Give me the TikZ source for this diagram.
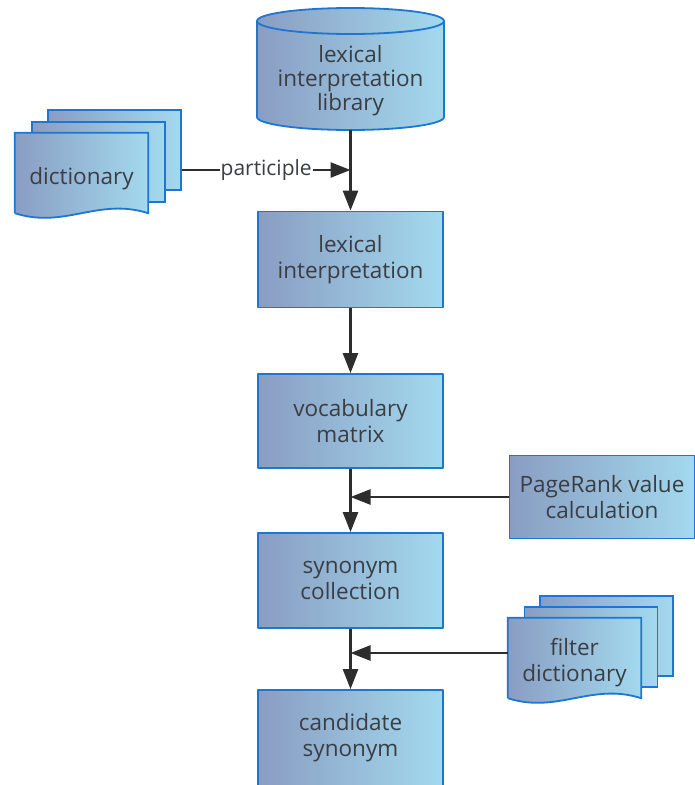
\documentclass[tikz,border=0pt]{standalone}
\usepackage{fontspec}
\setmainfont{Open Sans}
\usetikzlibrary{arrows.meta, positioning, calc, backgrounds}

\definecolor{shadeL}{RGB}{137,157,194}
\definecolor{shadeR}{RGB}{163,217,238}
\definecolor{edgeblue}{RGB}{28,118,210}
\definecolor{txtgray}{RGB}{58,62,68}
\definecolor{arrowgray}{RGB}{45,45,45}

\tikzset{
  box/.style={draw=edgeblue, line width=1.8pt, left color=shadeL, right color=shadeR,
    text=txtgray, align=center, minimum width=185, minimum height=95,
    font=\fontsize{22.5}{26}\selectfont},
  sheet/.style={draw=edgeblue, line width=1.8pt, left color=shadeL, right color=shadeR,
    minimum width=133, minimum height=80},
  docshape/.style={draw=edgeblue, line width=1.8pt, left color=shadeL, right color=shadeR},
  doctext/.style={text=txtgray, align=center, minimum width=133, minimum height=80,
    font=\fontsize{22.5}{26}\selectfont},
  flow/.style={draw=arrowgray, line width=2.6pt, -{Triangle[length=20pt,width=15pt]}},
}

\begin{document}
\begin{tikzpicture}[x=1pt, y=-1pt, line join=round]
    \useasboundingbox (0,0) rectangle (694,785);

    % library (cylinder)
    \node[text=txtgray, align=center, font=\fontsize{22.5}{24}\selectfont] (lib) at (350.5,81)
        {lexical\\interpretation\\library};
    \begin{scope}[on background layer]
        \draw[docshape] (257,21) -- (257,117)
            arc[start angle=180, end angle=0, x radius=93.5, y radius=13]
            -- (444,21) arc[start angle=0, end angle=-180, x radius=93.5, y radius=13] -- cycle;
        \draw[draw=edgeblue, line width=1.8pt] (257,21)
            arc[start angle=180, end angle=0, x radius=93.5, y radius=13];
    \end{scope}
    \coordinate (libbase) at (350.5,130);

    % main column
    \node[box, minimum height=96] (lexint) at (350.5,259.5) {lexical\\interpretation};
    \node[box, minimum height=94] (vocab) at (350.5,421) {vocabulary\\matrix};
    \node[box] (syn) at (350.5,580.5) {synonym\\collection};
    \node[box, minimum height=96] (cand) at (350.5,738) {candidate\\synonym};

    % side inputs
    \node[box, minimum height=83] (rank) at (602,497) {PageRank value\\calculation};

    \node[doctext] (dict) at (81.5,179) {dictionary};
    \begin{scope}[on background layer]
        \node[sheet] (dictc) at ($(dict)+(33,-29)$) {};
        \node[sheet] (dictb) at ($(dict)+(17,-17)$) {};
        \draw[docshape] ($(dict.south west)+(0,-6)$) -- ($(dict.north west)+(0,-6)$)
            -- ($(dict.north east)+(0,-6)$) -- ($(dict.south east)+(0,-6)$)
            .. controls +(-50,-16) and +(50,16) .. ($(dict.south west)+(0,-6)$);
    \end{scope}
    \coordinate (dictout) at ($(dictc.east |- dict.center)+(0,-9)$);

    \node[doctext] (filter) at (574.5,663) {filter\\dictionary};
    \begin{scope}[on background layer]
        \node[sheet] (filterc) at ($(filter)+(32,-27)$) {};
        \node[sheet] (filterb) at ($(filter)+(16.5,-16)$) {};
        \draw[docshape] ($(filter.south west)+(0,-5)$) -- ($(filter.north west)+(0,-5)$)
            -- ($(filter.north east)+(0,-5)$) -- ($(filter.south east)+(0,-5)$)
            .. controls +(-50,-16) and +(50,16) .. ($(filter.south west)+(0,-5)$);
    \end{scope}
    \coordinate (filterout) at ([yshift=10pt]filter.west);

    % connectors
    \draw[flow] (libbase) -- (lexint.north);
    \draw[flow] (lexint.south) -- (vocab.north);
    \draw[flow] (vocab.south) -- (syn.north);
    \draw[flow] (syn.south) -- (cand.north);
    \draw[flow] (dictout) -- node[fill=white, text=txtgray, inner sep=1pt,
        font=\fontsize{21}{26}\selectfont] {participle} (libbase |- dictout);
    \draw[flow] (rank.west) -- (vocab.south |- rank.west);
    \draw[flow] (filterout) -- (syn.south |- filterout);
\end{tikzpicture}
\end{document}
